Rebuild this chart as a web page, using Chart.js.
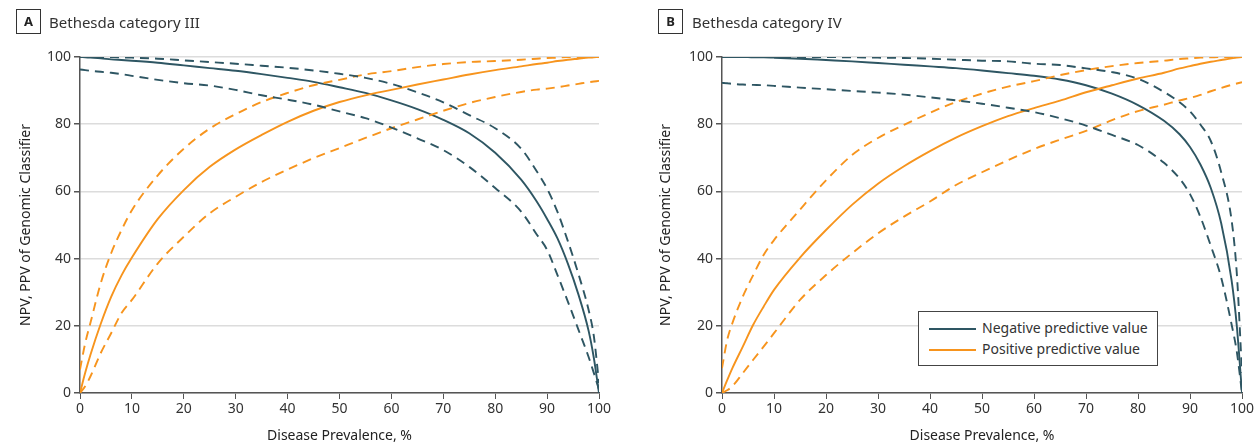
<!DOCTYPE html>
<html>
<head>
<meta charset="utf-8">
<script src="https://cdn.jsdelivr.net/npm/chart.js@4.4.1/dist/chart.umd.min.js"></script>
<style>
    body { margin: 0; background: #fff; font-family: "Noto Sans", sans-serif; color: #222; }
    #wrap { position: relative; width: 1260px; height: 444px; overflow: hidden; }
    .panel { position: absolute; top: 0; }
    .tag { position: absolute; border: 1px solid #333; font-weight: bold; font-size: 13px;
           text-align: center; line-height: 23px; width: 23px; height: 23px; }
    .heading { position: absolute; font-size: 15px; line-height: 20px; color: #333; }
    .legend { position: absolute; border: 1px solid #444; background: #fff; font-size: 14px; color: #333; }
    .legend .row { position: absolute; left: 10px; height: 20px; line-height: 20px; white-space: nowrap; }
    .legend .swatch { display: inline-block; width: 47px; height: 2px; vertical-align: middle; margin-right: 6px; }
</style>
</head>
<body>
<div id="wrap">
    <canvas id="chartA" class="panel" width="630" height="444" style="left:0"></canvas>
    <canvas id="chartB" class="panel" width="620" height="444" style="left:640px"></canvas>

    <div class="tag" style="left:16px;top:9px">A</div>
    <div class="heading" style="left:49px;top:12px">Bethesda category III</div>
    <div class="tag" style="left:658px;top:9px">B</div>
    <div class="heading" style="left:692px;top:12px">Bethesda category IV</div>

    <div class="legend" style="left:918px;top:311px;width:238px;height:53px">
        <div class="row" style="top:6px"><span class="swatch" style="background:#2e5663"></span>Negative predictive value</div>
        <div class="row" style="top:27px"><span class="swatch" style="background:#f7941d"></span>Positive predictive value</div>
    </div>
</div>
<script>
// Disease prevalence (%) sample points
const prevalence = [0, 1, 2, 4, 6, 8, 10, 15, 20, 25, 30, 35, 40, 45, 50, 55, 60, 65, 70, 75, 80, 85, 88, 90, 92, 94, 96, 98, 99, 100];

// Panel A - Bethesda category III
const npvA   = [100, 99.9, 99.8, 99.6, 99.3, 99.1, 98.9, 98.3, 97.5, 96.7, 95.9, 94.9, 93.8, 92.6, 91.0, 89.3, 87.1, 84.5, 81.3, 77.3, 71.5, 63.5, 57.0, 51.8, 46.0, 38.5, 29.5, 18.5, 10.5, 0];
const npvAHi = [100, 100, 100, 100, 100, 99.9, 99.8, 99.5, 99.0, 98.5, 98.0, 97.4, 96.8, 96.0, 95.0, 93.8, 92.0, 89.5, 86.5, 82.7, 78.8, 72.7, 66.0, 60.8, 53.9, 45.2, 35.6, 24.7, 17.0, 3];
const npvALo = [96.3, 96.1, 95.9, 95.6, 95.3, 94.9, 94.4, 93.2, 92.2, 91.5, 90.2, 88.6, 87.3, 85.8, 83.8, 81.8, 79.0, 75.8, 72.3, 67.3, 61.0, 54.0, 47.2, 42.6, 35.1, 27.2, 19.0, 10.7, 6.0, 1];
const ppvA   = [0, 6.0, 11.3, 20.6, 28.6, 35.0, 40.3, 51.8, 60.4, 67.3, 72.5, 76.8, 80.7, 84.0, 86.6, 88.6, 90.2, 91.8, 93.3, 94.8, 96.1, 97.2, 97.9, 98.3, 98.8, 99.2, 99.5, 99.8, 99.9, 100];
const ppvAHi = [7, 14.8, 20.8, 32.7, 41.6, 48.5, 54.4, 64.8, 72.7, 78.7, 83.0, 86.6, 89.3, 91.6, 93.2, 94.8, 95.8, 97.0, 97.9, 98.5, 98.8, 99.2, 99.5, 99.7, 99.8, 100, 100, 100, 100, 100];
const ppvALo = [0, 2.0, 4.9, 11.9, 17.8, 23.8, 27.7, 38.6, 46.5, 53.5, 58.4, 62.8, 66.5, 69.9, 72.9, 75.9, 78.8, 81.4, 84.0, 86.3, 88.1, 89.6, 90.3, 90.6, 91.0, 91.5, 92.0, 92.5, 92.7, 92.9];

// Panel B - Bethesda category IV
const npvB   = [100, 100, 100, 100, 99.9, 99.9, 99.8, 99.5, 99.1, 98.7, 98.2, 97.7, 97.2, 96.7, 96.0, 95.2, 94.4, 93.3, 91.6, 89.1, 85.7, 81.0, 77.0, 73.2, 68.0, 61.0, 50.5, 33.5, 20.0, 0];
const npvBHi = [100, 100, 100, 100, 100, 100, 100, 100, 100, 99.9, 99.8, 99.7, 99.5, 99.2, 98.9, 98.7, 98.0, 97.6, 96.6, 95.5, 93.5, 89.6, 86.5, 83.8, 79.9, 75.0, 65.7, 51.4, 35.6, 6];
const npvBLo = [92.3, 92.2, 92.0, 91.8, 91.7, 91.6, 91.4, 90.9, 90.4, 89.9, 89.4, 88.8, 88.0, 87.1, 86.1, 84.9, 83.6, 81.8, 79.6, 76.8, 73.8, 68.5, 63.8, 59.2, 52.4, 43.8, 34.3, 20.4, 12.3, 0];
const ppvB   = [0, 3.8, 7.4, 13.8, 20.3, 25.7, 30.7, 40.3, 48.5, 56.0, 62.3, 67.5, 72.0, 76.0, 79.4, 82.4, 84.8, 87.0, 89.5, 91.6, 93.6, 95.3, 96.6, 97.3, 98.0, 98.6, 99.1, 99.6, 99.8, 100];
const ppvBHi = [7.4, 15.8, 20.8, 28.7, 35.1, 41.1, 45.5, 54.6, 63.3, 70.8, 75.9, 79.8, 83.4, 86.6, 89.1, 91.2, 92.8, 94.6, 96.1, 97.3, 98.2, 98.9, 99.4, 99.6, 99.8, 99.9, 100, 100, 100, 100];
const ppvBLo = [0, 0.8, 2.0, 5.9, 9.9, 13.8, 17.8, 27.7, 35.1, 41.6, 47.5, 52.5, 57.0, 61.9, 65.7, 69.3, 72.6, 75.4, 78.0, 81.2, 83.9, 85.8, 87.1, 87.8, 88.7, 89.8, 90.8, 91.7, 92.1, 92.5];

const xTicks = [0, 10, 20, 30, 40, 50, 60, 70, 80, 90, 100];
const yTicks = [0, 20, 40, 60, 80, 100];

const NPV_COLOR = '#2e5663';
const PPV_COLOR = '#f7941d';
const AXIS_COLOR = '#555';
const FONT = '"Noto Sans", sans-serif';

function points(values) {
    return prevalence.map((p, i) => ({ x: p, y: values[i] }));
}

function line(values, color, dashed) {
    return {
        data: points(values),
        borderColor: color,
        borderWidth: 1.9,
        borderDash: dashed ? [9, 6] : [],
        pointRadius: 0,
        fill: false,
        cubicInterpolationMode: 'monotone'
    };
}

function makeChart(id, series, leftWidth) {
    const ctx = document.getElementById(id).getContext('2d');
    return new Chart(ctx, {
        type: 'line',
        data: {
            datasets: [
                line(series.npvHi, NPV_COLOR, true),
                line(series.npvLo, NPV_COLOR, true),
                line(series.ppvHi, PPV_COLOR, true),
                line(series.ppvLo, PPV_COLOR, true),
                line(series.ppv, PPV_COLOR, false),
                line(series.npv, NPV_COLOR, false)
            ]
        },
        options: {
            responsive: false,
            animation: false,
            layout: { padding: { top: 57, right: series.padRight, left: 0, bottom: 0 } },
            plugins: { legend: { display: false }, tooltip: { enabled: false } },
            scales: {
                x: {
                    type: 'linear',
                    min: 0,
                    max: 100,
                    afterBuildTicks: scale => { scale.ticks = xTicks.map(v => ({ value: v })); },
                    ticks: { color: '#333', font: { family: FONT, size: 14 }, padding: 2, maxRotation: 0 },
                    grid: { drawOnChartArea: false, drawTicks: true, tickLength: 6, tickColor: AXIS_COLOR },
                    border: { display: true, color: AXIS_COLOR, width: 1.5 },
                    title: { display: true, text: 'Disease Prevalence, %', color: '#222', font: { family: FONT, size: 14 }, padding: { top: 0, bottom: 0 } },
                    afterFit: scale => { scale.height = 51; }
                },
                y: {
                    type: 'linear',
                    min: 0,
                    max: 100,
                    afterBuildTicks: scale => { scale.ticks = yTicks.map(v => ({ value: v })); },
                    ticks: { color: '#333', font: { family: FONT, size: 14 }, padding: 3 },
                    grid: { color: '#dcdcdc', lineWidth: 1.5, tickLength: 6, tickColor: AXIS_COLOR },
                    border: { display: true, color: AXIS_COLOR, width: 1.5 },
                    title: { display: true, text: 'NPV, PPV of Genomic Classifier', color: '#222', font: { family: FONT, size: 14 }, padding: { top: 18, bottom: 18 } },
                    afterFit: scale => { scale.width = leftWidth; }
                }
            }
        }
    });
}

makeChart('chartA', { npv: npvA, npvHi: npvAHi, npvLo: npvALo, ppv: ppvA, ppvHi: ppvAHi, ppvLo: ppvALo, padRight: 31 }, 80);
makeChart('chartB', { npv: npvB, npvHi: npvBHi, npvLo: npvBLo, ppv: ppvB, ppvHi: ppvBHi, ppvLo: ppvBLo, padRight: 18 }, 82);
</script>
</body>
</html>
